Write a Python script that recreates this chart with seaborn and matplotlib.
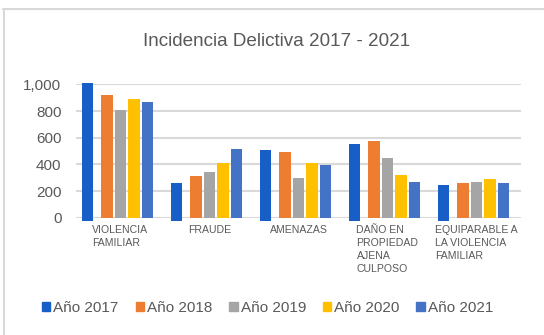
import matplotlib
matplotlib.use("Agg")
import matplotlib.pyplot as plt
from matplotlib.lines import Line2D
from matplotlib.ticker import FuncFormatter
import seaborn as sns
import pandas as pd

# Crime incidence by type, 2017-2021
categories = [
    "VIOLENCIA\nFAMILIAR",
    "FRAUDE",
    "AMENAZAS",
    "DAÑO EN\nPROPIEDAD\nAJENA\nCULPOSO",
    "EQUIPARABLE A\nLA VIOLENCIA\nFAMILIAR",
]
years = ["Año 2017", "Año 2018", "Año 2019", "Año 2020", "Año 2021"]
v2017 = [1012, 260, 505, 552, 243]
v2018 = [922, 312, 495, 575, 258]
v2019 = [810, 340, 296, 445, 265]
v2020 = [888, 410, 408, 322, 288]
v2021 = [870, 515, 393, 268, 258]
yticks = [0, 200, 400, 600, 800, 1000]

colors = ["#175EC7", "#ED7D31", "#A5A5A5", "#FFC000", "#4472C4"]
grey_text = "#595959"

rows = []
for year, vals in zip(years, [v2017, v2018, v2019, v2020, v2021]):
    for cat, v in zip(categories, vals):
        rows.append({"categoria": cat, "anio": year, "valor": v})
df = pd.DataFrame(rows)

sns.set_theme(style="white")
plt.rcParams["font.family"] = ["Liberation Sans", "DejaVu Sans"]

fig = plt.figure(figsize=(5.44, 3.35), dpi=100)
ax = fig.add_axes([0.1397, 0.350, 0.818, 0.398])

sns.barplot(data=df, x="categoria", y="valor", hue="anio", order=categories,
            hue_order=years, palette=colors, saturation=1, width=0.76,
            gap=0.18, linewidth=0, ax=ax, legend=False)

# the 2017 series sits a little apart and dips just under the baseline
for patch in ax.containers[0]:
    patch.set_x(patch.get_x() - 0.067)
    h = patch.get_height()
    patch.set_y(-22)
    patch.set_height(h + 22)
for c in ax.containers:
    for patch in c:
        patch.set_clip_on(False)

ax.set_ylim(0, 1000)
ax.set_xlim(-0.5, len(categories) - 0.5)
ax.set_yticks(yticks)
ax.yaxis.set_major_formatter(FuncFormatter(lambda v, p: f"{int(v):,}"))
ax.grid(axis="y", color="#D9D9D9", linewidth=1.5)
ax.set_axisbelow(True)
for s in ax.spines.values():
    s.set_visible(False)
ax.set_xlabel("")
ax.set_ylabel("")
ax.tick_params(axis="y", length=0, pad=10.5, labelsize=11, labelcolor=grey_text)
ax.tick_params(axis="x", length=0, pad=5.5, labelsize=7.6, labelcolor=grey_text)
for lbl in ax.get_xticklabels():
    lbl.set_ha("center")
    lbl.set_va("top")
    lbl.set_multialignment("left")
    lbl.set_linespacing(1.35)

fig.text(0.509, 0.877, "Incidencia Delictiva 2017 - 2021", ha="center",
         va="center", fontsize=13.6, color=grey_text)

handles = [plt.Rectangle((0, 0), 1, 1, color=c) for c in colors]
fig.legend(handles, years, loc="center", bbox_to_anchor=(0.492, 0.081), ncol=5,
           frameon=False, fontsize=11, labelcolor=grey_text, handlelength=0.55,
           handleheight=0.55, handletextpad=0.2, columnspacing=1.1,
           borderpad=0, borderaxespad=0)

# chart frame: top and left edges
fig.add_artist(Line2D([3 / 544, 1], [1 - 8.5 / 335, 1 - 8.5 / 335],
                      color="#D9D9D9", linewidth=1.5, transform=fig.transFigure))
fig.add_artist(Line2D([4 / 544, 4 / 544], [0, 1 - 8.5 / 335],
                      color="#D9D9D9", linewidth=1.5, transform=fig.transFigure))

fig.savefig("out.png", dpi=100, facecolor="white")
